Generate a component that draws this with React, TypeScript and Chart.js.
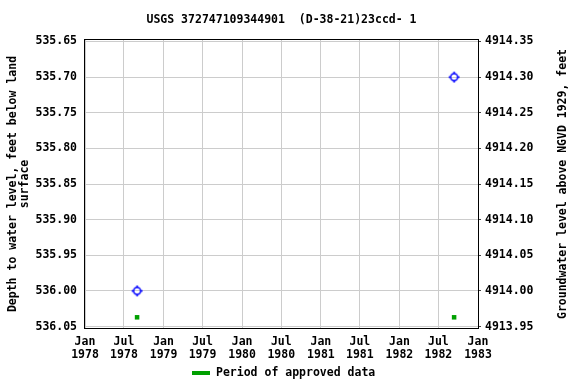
import React, { useEffect, useRef } from "react";
import { Chart, registerables } from "chart.js";

Chart.register(...registerables);

const TITLE = "USGS 372747109344901  (D-38-21)23ccd- 1";
const LEFT_TITLE = ["Depth to water level, feet below land", "surface"];
const RIGHT_TITLE = "Groundwater level above NGVD 1929, feet";
const LEGEND_LABEL = "Period of approved data";

const measurementDates = ["1978-08-31", "1982-09-12"];
const depthValues = [536.0, 535.7];
const approvedDates = ["1978-08-31", "1982-09-12"];
const approvedMarkerDepth = [536.037, 536.037];

const depthTicks = [535.65, 535.7, 535.75, 535.8, 535.85, 535.9, 535.95, 536.0, 536.05];
const elevTicks = [4913.95, 4914.0, 4914.05, 4914.1, 4914.15, 4914.2, 4914.25, 4914.3, 4914.35];
const xTickDates = [
  "1978-01-01", "1978-07-01", "1979-01-01", "1979-07-01", "1980-01-01", "1980-07-01",
  "1981-01-01", "1981-07-01", "1982-01-01", "1982-07-01", "1983-01-01",
];
const xRange = ["1978-01-01", "1983-01-01"];
const depthRange = [535.648, 536.052];
const DATUM = 5450.0;

const MONTHS = ["Jan", "Feb", "Mar", "Apr", "May", "Jun", "Jul", "Aug", "Sep", "Oct", "Nov", "Dec"];
const FONT = "'DejaVu Sans Mono', monospace";

const day = (d: string) => Date.parse(d + "T00:00:00Z") / 864e5;

function makeMarker(): HTMLCanvasElement {
  const c = document.createElement("canvas");
  c.width = 13;
  c.height = 13;
  const g = c.getContext("2d")!;
  g.strokeStyle = "#0000ff";
  g.lineWidth = 1.5;
  g.beginPath();
  g.arc(6.5, 6.5, 3.5, 0, Math.PI * 2);
  g.stroke();
  g.beginPath();
  g.moveTo(6.5, 1); g.lineTo(6.5, 3);
  g.moveTo(6.5, 10); g.lineTo(6.5, 12);
  g.moveTo(1, 6.5); g.lineTo(3, 6.5);
  g.moveTo(10, 6.5); g.lineTo(12, 6.5);
  g.stroke();
  return c;
}

const decorPlugin = {
  id: "decor",
  beforeDatasetsDraw(chart: any) {
    const { ctx, chartArea: a } = chart;
    ctx.save();
    ctx.strokeStyle = "#000";
    ctx.lineWidth = 1;
    ctx.strokeRect(Math.round(a.left) - 0.5, Math.round(a.top) - 0.5, Math.round(a.right - a.left) + 1, Math.round(a.bottom - a.top) + 1);
    ctx.restore();
  },
  afterDraw(chart: any) {
    const { ctx, chartArea: a } = chart;
    ctx.save();
    ctx.fillStyle = "#000";
    ctx.font = `bold 11.5px ${FONT}`;
    ctx.textAlign = "center";
    ctx.textBaseline = "middle";
    ctx.fillText(TITLE, (a.left + a.right) / 2, 20);

    const cy = (a.top + a.bottom) / 2;
    ctx.save();
    ctx.translate(13, cy);
    ctx.rotate(-Math.PI / 2);
    ctx.fillText(LEFT_TITLE[0], 0, 0);
    ctx.fillText(LEFT_TITLE[1], 0, 12);
    ctx.restore();

    ctx.save();
    ctx.translate(563, cy);
    ctx.rotate(-Math.PI / 2);
    ctx.fillText(RIGHT_TITLE, 0, 0);
    ctx.restore();

    ctx.strokeStyle = "#00a000";
    ctx.lineWidth = 4;
    ctx.beginPath();
    ctx.moveTo(192, 373);
    ctx.lineTo(210, 373);
    ctx.stroke();
    ctx.textAlign = "left";
    ctx.fillText(LEGEND_LABEL, 216, 373);
    ctx.restore();
  },
};

export default function App() {
  const ref = useRef<HTMLCanvasElement>(null);
  useEffect(() => {
    document.body.style.margin = "0";
    const marker = makeMarker();
    const chart = new Chart(ref.current!, {
      type: "scatter",
      data: {
        datasets: [
          {
            label: "Depth",
            data: measurementDates.map((d, i) => ({ x: day(d), y: depthValues[i] })),
            pointStyle: marker as any,
            pointRadius: 6,
            yAxisID: "y",
          },
          {
            label: LEGEND_LABEL,
            data: approvedDates.map((d, i) => ({ x: day(d), y: approvedMarkerDepth[i] })),
            pointStyle: "rect",
            pointRadius: 3.2,
            backgroundColor: "#00a000",
            borderWidth: 0,
            yAxisID: "y",
          },
        ],
      },
      options: {
        animation: false,
        responsive: false,
        events: [],
        layout: { padding: { top: 40, left: 0, right: 0, bottom: 0 } },
        plugins: { legend: { display: false }, title: { display: false }, tooltip: { enabled: false } },
        font: { family: FONT, size: 11.5, weight: "bold" } as any,
        scales: {
          x: {
            type: "linear",
            min: day(xRange[0]),
            max: day(xRange[1]),
            afterBuildTicks: (s: any) => { s.ticks = xTickDates.map((d) => ({ value: day(d) })); },
            afterFit: (s: any) => { s.height = 56; },
            grid: { color: "#cccccc", drawTicks: false },
            border: { display: false },
            ticks: {
              padding: 8,
              color: "#000",
              maxRotation: 0,
              autoSkip: false,
              font: { family: FONT, size: 11.5, weight: "bold", lineHeight: 1.13 } as any,
              callback: (v: any) => {
                const dt = new Date(Number(v) * 864e5);
                return [MONTHS[dt.getUTCMonth()], String(dt.getUTCFullYear())];
              },
            },
          },
          y: {
            type: "linear",
            position: "left",
            reverse: true,
            min: depthRange[0],
            max: depthRange[1],
            afterBuildTicks: (s: any) => { s.ticks = depthTicks.map((v) => ({ value: v })); },
            afterFit: (s: any) => { s.width = 85; },
            grid: { color: "#cccccc", drawTicks: false },
            border: { display: false },
            ticks: {
              padding: 8,
              color: "#000",
              autoSkip: false,
              font: { family: FONT, size: 11.5, weight: "bold" } as any,
              callback: (v: any) => Number(v).toFixed(2),
            },
          },
          y1: {
            type: "linear",
            position: "right",
            min: DATUM - depthRange[1],
            max: DATUM - depthRange[0],
            afterBuildTicks: (s: any) => { s.ticks = elevTicks.map((v) => ({ value: v })); },
            afterFit: (s: any) => { s.width = 98; },
            grid: { drawOnChartArea: false, drawTicks: true, tickLength: 3, color: "#444" },
            border: { display: false },
            ticks: {
              padding: 4,
              color: "#000",
              autoSkip: false,
              font: { family: FONT, size: 11.5, weight: "bold" } as any,
              callback: (v: any) => Number(v).toFixed(2),
            },
          },
        },
      },
      plugins: [decorPlugin],
    });
    return () => chart.destroy();
  }, []);
  return (
    <div style={{ width: 576, height: 384 }}>
      <canvas ref={ref} width={576} height={384} />
    </div>
  );
}
